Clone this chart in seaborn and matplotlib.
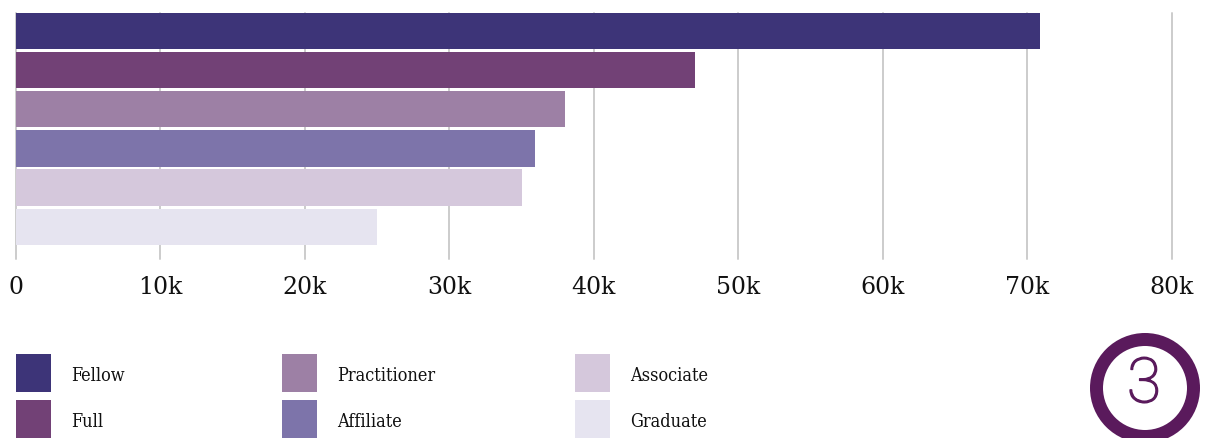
import matplotlib
matplotlib.use("Agg")
import matplotlib.pyplot as plt
import matplotlib.patheffects as pe
import seaborn as sns
import pandas as pd
from matplotlib.patches import Rectangle, Circle

# Membership counts by grade
categories = ["Fellow", "Full", "Practitioner", "Affiliate", "Associate", "Graduate"]
members = [70900, 47000, 38000, 35900, 35000, 25000]
colors = ["#3d3478", "#724176", "#9d80a5", "#7d74aa", "#d5c8dc", "#e6e4f0"]
tick_values = [0, 10000, 20000, 30000, 40000, 50000, 60000, 70000, 80000]
tick_labels = ["0", "10k", "20k", "30k", "40k", "50k", "60k", "70k", "80k"]
badge_number = "3"

sns.set_theme(style="white")
plt.rcParams["font.family"] = ["DejaVu Serif"]

W, H = 1211, 438
fig = plt.figure(figsize=(W / 100, H / 100), dpi=100)
fig.patch.set_facecolor("white")

# main bar chart area (pixel layout converted to figure fractions)
left, right, top, bottom = 15.7, 1172, 12.7, 259
ax = fig.add_axes([left / W, 1 - bottom / H, (right - left) / W, (bottom - top) / H])

df = pd.DataFrame({"category": categories, "members": members})
sns.barplot(data=df, y="category", x="members", hue="category",
            order=categories, hue_order=categories, palette=colors,
            width=0.925, saturation=1, legend=False, ax=ax, zorder=2,
            edgecolor="none", linewidth=0)

ax.set_xlim(0, 80000)
ax.set_ylim(5.82, -0.46)
ax.set_xticks(tick_values)
ax.set_xticklabels(tick_labels, fontsize=17, color="#111111")
ax.set_yticks([])
ax.set_xlabel("")
ax.set_ylabel("")
ax.tick_params(axis="x", length=0, pad=12)
for s in ax.spines.values():
    s.set_visible(False)
ax.grid(axis="x", color="#cccccc", linewidth=1.4)
ax.set_axisbelow(True)
for gl in ax.get_xgridlines():
    gl.set_clip_on(False)

# legend: two rows, three columns of swatches
swatch_w, swatch_h = 35, 38
col_x = [16, 282, 575]
row_top = [354, 400]
row_base = [381, 427]
for i, (cat, col) in enumerate(zip(categories, colors)):
    c, r = divmod(i, 2)
    x0, y0 = col_x[c], row_top[r]
    fig.patches.append(Rectangle((x0 / W, 1 - (y0 + swatch_h) / H), swatch_w / W, swatch_h / H,
                                 transform=fig.transFigure, facecolor=col, edgecolor="none"))
    fig.text((x0 + 55) / W, 1 - row_base[r] / H, cat, va="baseline", ha="left",
             fontsize=13, fontstretch="condensed", color="#111111")

# numbered badge in the corner
badge_color = "#5a1a5c"
cx, cy, R = 1145, 388, 62
bx = fig.add_axes([(cx - R) / W, 1 - (cy + R) / H, 2 * R / W, 2 * R / H])
bx.set_xlim(-R, R)
bx.set_ylim(-R, R)
bx.set_aspect("equal")
bx.axis("off")
bx.add_patch(Circle((0, 0), 48.5, fill=False, edgecolor=badge_color, linewidth=13 * 0.72, clip_on=False))
bx.text(-1, 3, badge_number, ha="center", va="center", fontsize=45,
        family=["Roboto", "DejaVu Sans"], fontweight="light", color=badge_color,
        path_effects=[pe.withStroke(linewidth=1.0, foreground=badge_color)])

fig.savefig("out.png", dpi=100, facecolor="white")
